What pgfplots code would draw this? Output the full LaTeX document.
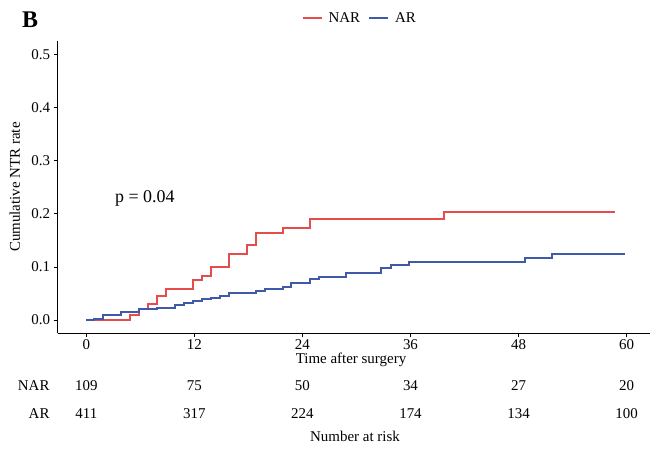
\documentclass[border=0pt]{standalone}
\usepackage{pgfplots}
\pgfplotsset{compat=1.18}
\usepackage{fontspec}
\setmainfont{Liberation Serif}
\definecolor{narred}{RGB}{229,76,76}
\definecolor{arblue}{RGB}{62,90,168}
\begin{document}
\begin{tikzpicture}[x=1bp,y=1bp, risk/.style={font=\fontsize{15}{17}\selectfont, text height=1.5ex, text depth=0.25ex}]
\useasboundingbox (0,0) rectangle (654,450);
\begin{axis}[
  at={(57.5bp,116.7bp)}, anchor=south west,
  scale only axis, width=592.5bp, height=291.9bp,
  xmin=-3.2, xmax=62.6, ymin=-0.025, ymax=0.525,
  axis lines=left, axis line style={-, line width=0.8bp},
  xtick={0,12,24,36,48,60}, ytick={0,0.1,0.2,0.3,0.4,0.5},
  tick align=outside, major tick length=4bp,
  tick style={black, line width=0.8bp},
  ticklabel style={font=\fontsize{15}{17}\selectfont},
  /pgf/number format/assume math mode=true,
  yticklabel style={/pgf/number format/.cd, fixed, fixed zerofill, precision=1},
  xticklabel style={yshift=1bp},
  clip=false,
  legend columns=2,
  legend style={at={(0.51,1.08)}, anchor=center, draw=none, fill=none,
    font=\fontsize{15}{17}\selectfont, column sep=4bp, inner sep=0pt,
    /tikz/every even column/.append style={column sep=6bp}},
  legend image code/.code={\draw[#1, line width=2bp] (0bp,0bp) -- (19bp,0bp);},
]
\addplot[const plot, color=narred, line width=2bp] coordinates {
 (0,0) (4.8,0.0095) (5.8,0.020) (6.8,0.030) (7.8,0.045) (8.8,0.058)
 (11.8,0.075) (12.8,0.083) (13.8,0.099) (15.8,0.124) (17.8,0.142)
 (18.8,0.164) (21.8,0.174) (24.8,0.191) (39.7,0.204) (58.7,0.204)};
\addlegendentry{NAR}
\addplot[const plot, color=arblue, line width=2bp] coordinates {
 (0,0) (0.8,0.0025) (1.8,0.010) (3.8,0.0145) (5.9,0.020) (7.8,0.022)
 (9.8,0.028) (10.8,0.033) (11.8,0.036) (12.8,0.039) (13.8,0.041)
 (14.8,0.046) (15.9,0.051) (18.8,0.055) (19.8,0.058) (21.8,0.062)
 (22.7,0.069) (24.8,0.078) (25.8,0.082) (28.8,0.089) (32.7,0.098)
 (33.8,0.104) (35.8,0.109) (48.7,0.116) (51.7,0.124) (59.8,0.124)};
\addlegendentry{AR}
\node[font=\fontsize{18}{20}\selectfont] at (axis cs:6.5,0.23) {p = 0.04};
\node[risk] at (axis cs:0,-0.128) {109};
\node[risk] at (axis cs:12,-0.128) {75};
\node[risk] at (axis cs:24,-0.128) {50};
\node[risk] at (axis cs:36,-0.128) {34};
\node[risk] at (axis cs:48,-0.128) {27};
\node[risk] at (axis cs:60,-0.128) {20};
\node[risk] at (axis cs:0,-0.1806) {411};
\node[risk] at (axis cs:12,-0.1806) {317};
\node[risk] at (axis cs:24,-0.1806) {224};
\node[risk] at (axis cs:36,-0.1806) {174};
\node[risk] at (axis cs:48,-0.1806) {134};
\node[risk] at (axis cs:60,-0.1806) {100};
\end{axis}
\node[font=\fontsize{24}{26}\selectfont\bfseries] at (30,430) {B};
\node[risk, rotate=90] at (17,263) {Cumulative NTR rate};
\node[risk] at (351,89) {Time after surgery};
\node[risk, anchor=east] at (53,62) {NAR};
\node[risk, anchor=east] at (53,34) {AR};
\node[risk] at (355,11) {Number at risk};
\end{tikzpicture}
\end{document}
